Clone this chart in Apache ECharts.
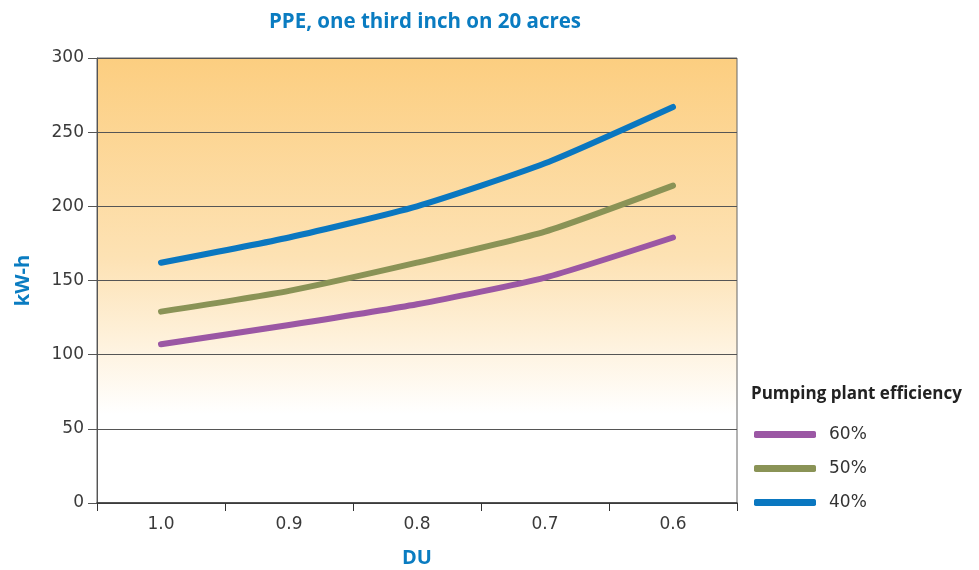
<!DOCTYPE html>
<html><head><meta charset="utf-8">
<script src="https://cdn.jsdelivr.net/npm/echarts@6/dist/echarts.min.js"></script>
<style>html,body{margin:0;padding:0;background:#fff}#c{width:979px;height:570px}</style>
</head><body><div id="c"></div>
<script>
const categories = ['1.0', '0.9', '0.8', '0.7', '0.6'];
const eff60 = [107, 120, 134, 152, 179];
const eff50 = [129, 143, 162, 183, 214];
const eff40 = [162, 179, 200, 229, 267];
const seriesNames = ['60%', '50%', '40%'];
const colors = ['#9B57A4', '#8A9356', '#0A77C0'];

const chart = echarts.init(document.getElementById('c'));
const mk = (name, data, color) => ({
  name, type: 'line', data, smooth: 0.2, symbol: 'none',
  lineStyle: { width: 6, color, cap: 'round', join: 'round' },
  itemStyle: { color }
});
const tickFont = 'DejaVu Sans';
chart.setOption({
  animation: false,
  title: {
    text: 'PPE, one third inch on 20 acres', left: 420, top: 7, textAlign: 'center',
    textStyle: { color: '#0A7CC1', fontFamily: 'Open Sans', fontWeight: 'bold', fontSize: 20.5 }
  },
  graphic: [{
    type: 'text', left: 751, top: 386,
    style: { text: 'Pumping plant efficiency', fill: '#222', font: 'bold 17px "Open Sans"' }
  }],
  legend: {
    orient: 'vertical', left: 749, top: 421, itemGap: 17,
    itemWidth: 62, itemHeight: 7, icon: 'roundRect',
    data: seriesNames,
    textStyle: { color: '#333', fontSize: 17, fontFamily: tickFont, padding: [0, 0, 0, 8] }
  },
  grid: {
    left: 97, right: 242, top: 58, bottom: 67, show: true,
    outerBoundsMode: 'none', containLabel: false,
    borderColor: '#666', borderWidth: 1,
    backgroundColor: {
      type: 'linear', x: 0, y: 0, x2: 0, y2: 1,
      colorStops: [
        { offset: 0, color: '#FCCE80' },
        { offset: 0.45, color: '#FDE2B4' },
        { offset: 0.8, color: '#FFFFFF' },
        { offset: 1, color: '#FFFFFF' }
      ]
    }
  },
  xAxis: {
    type: 'category', data: categories, boundaryGap: true,
    name: 'DU', nameLocation: 'middle', nameGap: 45,
    nameTextStyle: { color: '#0A7CC1', fontWeight: 'bold', fontSize: 20, fontFamily: 'Open Sans' },
    axisLine: { lineStyle: { color: '#333', width: 1.5 } },
    axisTick: { show: true, length: 8, lineStyle: { color: '#333' } },
    axisLabel: { color: '#3a3a3a', fontSize: 17, fontFamily: tickFont, margin: 13 }
  },
  yAxis: {
    type: 'value', min: 0, max: 300, interval: 50,
    name: 'kW-h', nameLocation: 'middle', nameGap: 64, nameRotate: 90,
    nameTextStyle: { color: '#0A7CC1', fontWeight: 'bold', fontSize: 20, fontFamily: 'Open Sans' },
    axisLine: { show: true, lineStyle: { color: '#555', width: 1 } },
    axisTick: { show: true, length: 9, lineStyle: { color: '#555' } },
    axisLabel: { color: '#3a3a3a', fontSize: 17, fontFamily: tickFont, margin: 13 },
    splitLine: { show: true, lineStyle: { color: '#555', width: 1 } }
  },
  series: [mk(seriesNames[0], eff60, colors[0]), mk(seriesNames[1], eff50, colors[1]), mk(seriesNames[2], eff40, colors[2])]
});
</script></body></html>
